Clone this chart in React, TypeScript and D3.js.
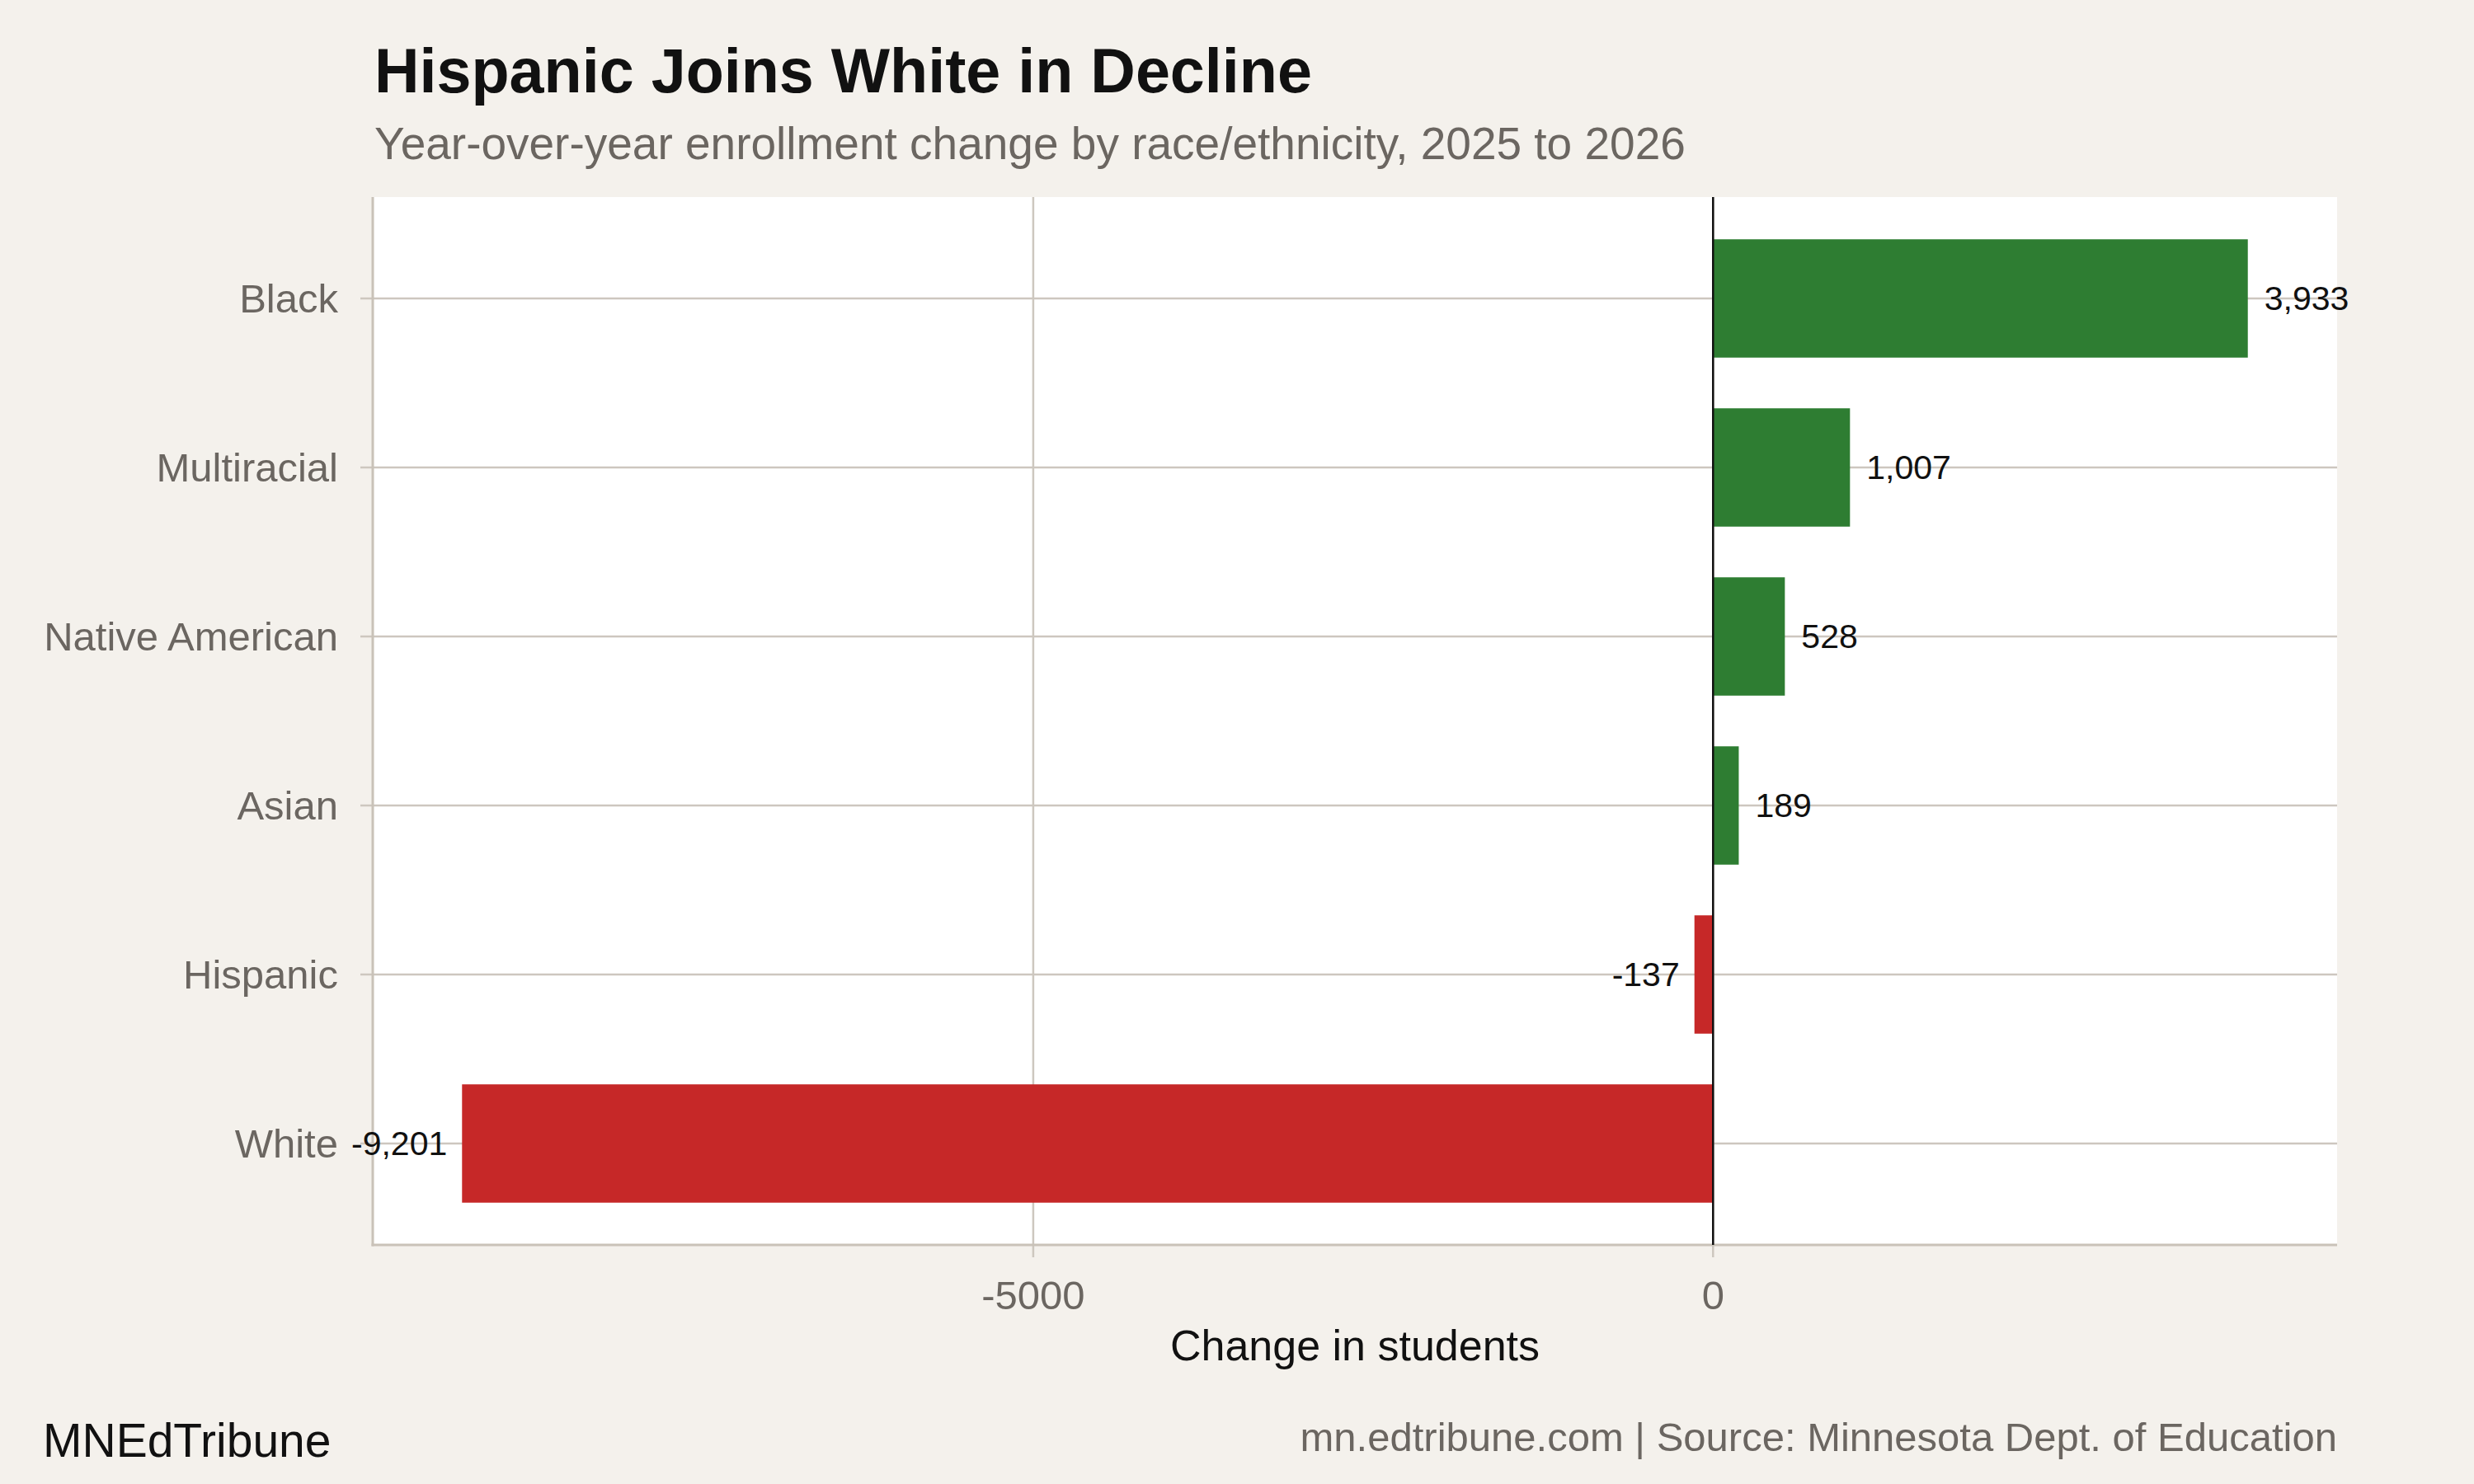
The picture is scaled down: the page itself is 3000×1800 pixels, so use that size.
import * as d3 from "d3";
import { useEffect, useRef } from "react";

const categories = ["Black", "Multiracial", "Native American", "Asian", "Hispanic", "White"];
const changes = [3933, 1007, 528, 189, -137, -9201];
const xTicks = [-5000, 0];

const title = "Hispanic Joins White in Decline";
const subtitle = "Year-over-year enrollment change by race/ethnicity, 2025 to 2026";
const xTitle = "Change in students";
const brand = "MNEdTribune";
const source = "mn.edtribune.com | Source: Minnesota Dept. of Education";

export default function App() {
  const ref = useRef<SVGSVGElement>(null);

  useEffect(() => {
    document.body.style.margin = "0";
    if (!ref.current) return;
    const el = ref.current;
    d3.select(el).selectAll("*").remove();

    const W = 3000;
    const H = 1800;
    const bg = "#f4f1ec";
    const gridCol = "#cdc7bf";
    const axisCol = "#c9c2b8";
    const grey = "#6b6661";
    const green = "#2e7d32";
    const red = "#c62828";
    const font = "'Liberation Sans', Arial, Helvetica, sans-serif";

    const panel = { left: 452, right: 2834, top: 239, bottom: 1510 };

    const svg = d3.select(el).attr("width", W).attr("height", H).attr("viewBox", `0 0 ${W} ${H}`);
    svg.append("rect").attr("width", W).attr("height", H).attr("fill", bg);

    const data = categories.map((c, i) => ({ cat: c, value: changes[i] }));
    const lo = Math.min(0, d3.min(changes)!);
    const hi = Math.max(0, d3.max(changes)!);
    const pad = (hi - lo) * 0.05;

    const x = d3.scaleLinear().domain([lo - pad, hi + pad]).range([panel.left, panel.right]);
    const y = d3.scalePoint<string>().domain(categories).range([panel.top, panel.bottom]).padding(0.6);
    const barH = y.step() * 0.7;

    // panel
    svg
      .append("rect")
      .attr("x", panel.left)
      .attr("y", panel.top)
      .attr("width", panel.right - panel.left)
      .attr("height", panel.bottom - panel.top)
      .attr("fill", "#ffffff");

    // grid + ticks
    svg
      .append("g")
      .selectAll("line")
      .data(xTicks)
      .join("line")
      .attr("x1", d => x(d))
      .attr("x2", d => x(d))
      .attr("y1", panel.top)
      .attr("y2", panel.bottom + 15)
      .attr("stroke", gridCol)
      .attr("stroke-width", 2.5);

    svg
      .append("g")
      .selectAll("line")
      .data(categories)
      .join("line")
      .attr("x1", panel.left - 15)
      .attr("x2", panel.right)
      .attr("y1", d => y(d)!)
      .attr("y2", d => y(d)!)
      .attr("stroke", gridCol)
      .attr("stroke-width", 2.5);

    // axis lines
    svg
      .append("line")
      .attr("x1", panel.left)
      .attr("x2", panel.left)
      .attr("y1", panel.top)
      .attr("y2", panel.bottom + 1.5)
      .attr("stroke", axisCol)
      .attr("stroke-width", 3);
    svg
      .append("line")
      .attr("x1", panel.left - 1.5)
      .attr("x2", panel.right)
      .attr("y1", panel.bottom)
      .attr("y2", panel.bottom)
      .attr("stroke", axisCol)
      .attr("stroke-width", 3);

    // bars
    svg
      .append("g")
      .selectAll("rect")
      .data(data)
      .join("rect")
      .attr("x", d => x(Math.min(0, d.value)))
      .attr("width", d => Math.abs(x(d.value) - x(0)))
      .attr("y", d => y(d.cat)! - barH / 2)
      .attr("height", barH)
      .attr("fill", d => (d.value >= 0 ? green : red));

    // zero line
    svg
      .append("line")
      .attr("x1", x(0))
      .attr("x2", x(0))
      .attr("y1", panel.top)
      .attr("y2", panel.bottom)
      .attr("stroke", "#111111")
      .attr("stroke-width", 2.5);

    // value labels (plain hyphen for negatives, like the original)
    const fmt = (v: number) => d3.format(",")(v).replace("\u2212", "-");
    svg
      .append("g")
      .selectAll("text")
      .data(data)
      .join("text")
      .attr("x", d => x(d.value) + (d.value >= 0 ? 20 : -18))
      .attr("y", d => y(d.cat)!)
      .attr("dy", "0.35em")
      .attr("text-anchor", d => (d.value >= 0 ? "start" : "end"))
      .attr("font-family", font)
      .attr("font-size", 41)
      .attr("fill", "#111111")
      .text(d => fmt(d.value));

    // y labels
    svg
      .append("g")
      .selectAll("text")
      .data(categories)
      .join("text")
      .attr("x", 410)
      .attr("y", d => y(d)!)
      .attr("dy", "0.35em")
      .attr("text-anchor", "end")
      .attr("font-family", font)
      .attr("font-size", 49)
      .attr("fill", grey)
      .text(d => d);

    // x tick labels
    svg
      .append("g")
      .selectAll("text")
      .data(xTicks)
      .join("text")
      .attr("x", d => x(d))
      .attr("y", 1588)
      .attr("text-anchor", "middle")
      .attr("font-family", font)
      .attr("font-size", 49)
      .attr("fill", grey)
      .text(d => String(d));

    svg
      .append("text")
      .attr("x", (panel.left + panel.right) / 2)
      .attr("y", 1650)
      .attr("text-anchor", "middle")
      .attr("font-family", font)
      .attr("font-size", 52)
      .attr("fill", "#111111")
      .text(xTitle);

    // titles
    svg
      .append("text")
      .attr("x", 454)
      .attr("y", 112)
      .attr("font-family", font)
      .attr("font-weight", 700)
      .attr("font-size", 75.5)
      .attr("fill", "#111111")
      .text(title);
    svg
      .append("text")
      .attr("x", 454)
      .attr("y", 193)
      .attr("font-family", font)
      .attr("font-size", 55)
      .attr("fill", grey)
      .text(subtitle);

    // footer
    svg
      .append("text")
      .attr("x", 52)
      .attr("y", 1767)
      .attr("font-family", font)
      .attr("font-size", 57)
      .attr("fill", "#111111")
      .text(brand);
    svg
      .append("text")
      .attr("x", panel.right)
      .attr("y", 1760)
      .attr("text-anchor", "end")
      .attr("font-family", font)
      .attr("font-size", 49)
      .attr("fill", grey)
      .text(source);
  }, []);

  return <svg ref={ref} style={{ display: "block" }} />;
}
